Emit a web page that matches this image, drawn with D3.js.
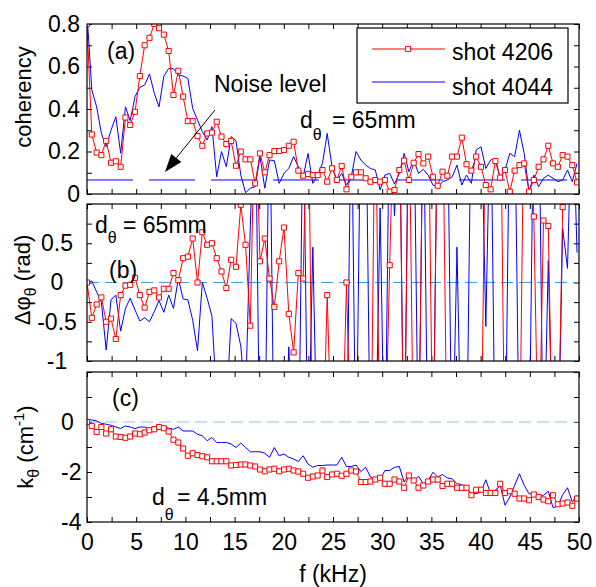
<!DOCTYPE html>
<html>
<head>
<meta charset="utf-8">
<script src="https://cdn.jsdelivr.net/npm/d3@7"></script>
<style>
  body { margin: 0; background: #fff; }
  svg { display: block; font-family: "Liberation Sans", Arial, sans-serif; }
</style>
</head>
<body>
<svg id="chart" width="596" height="587"></svg>
<script>
// frequency bins (kHz)
const freqKHz = [
  0, 0.49, 0.98, 1.46, 1.95, 2.44, 2.93, 3.42, 3.91, 4.39,
  4.88, 5.37, 5.86, 6.35, 6.84, 7.32, 7.81, 8.30, 8.79, 9.28,
  9.77, 10.25, 10.74, 11.23, 11.72, 12.21, 12.70, 13.18, 13.67, 14.16,
  14.65, 15.14, 15.63, 16.11, 16.60, 17.09, 17.58, 18.07, 18.55, 19.04,
  19.53, 20.02, 20.51, 21.00, 21.48, 21.97, 22.46, 22.95, 23.44, 23.93,
  24.41, 24.90, 25.39, 25.88, 26.37, 26.86, 27.34, 27.83, 28.32, 28.81,
  29.30, 29.79, 30.27, 30.76, 31.25, 31.74, 32.23, 32.71, 33.20, 33.69,
  34.18, 34.67, 35.16, 35.64, 36.13, 36.62, 37.11, 37.60, 38.09, 38.57,
  39.06, 39.55, 40.04, 40.53, 41.02, 41.50, 41.99, 42.48, 42.97, 43.46,
  43.95, 44.43, 44.92, 45.41, 45.90, 46.39, 46.88, 47.36, 47.85, 48.34,
  48.83, 49.32, 49.80
];

// (a) coherency
const cohShot4206 = [
  0.80, 0.28, 0.195, 0.183, 0.25, 0.147, 0.154, 0.128, 0.36, 0.325,
  0.387, 0.555, 0.70, 0.735, 0.80, 0.78, 0.75, 0.673, 0.466, 0.58,
  0.458, 0.343, 0.343, 0.273, 0.227, 0.285, 0.289, 0.34, 0.27, 0.235,
  0.25, 0.133, 0.2, 0.163, 0.163, 0.05, 0.191, 0.102, 0.183, 0.202,
  0.202, 0.207, 0.227, 0.246, 0.11, 0.086, 0.094, 0.089, 0.089, 0.113,
  0.058, 0.121, 0.066, 0.132, 0.022, 0.081, 0.102, 0.102, 0.074, 0.058,
  0.066, 0.058, 0.066, 0.011, 0.019, 0.113, 0.157, 0.066, 0.147, 0.188,
  0.144, 0.176, 0.081, 0.039, 0.105, 0.086, 0.176, 0.176, 0.265, 0.14,
  0.11, 0.176, 0.128, 0.042, 0.022, 0.155, 0.077, 0.113, 0.011, 0.11,
  0.136, 0.144, 0.011, 0.066, 0.128, 0.163, 0.227, 0.144, 0.128, 0.183,
  0.176, 0.136, 0.055
];
const cohShot4044 = [
  0.85, 0.49, 0.41, 0.286, 0.223, 0.30, 0.364, 0.192, 0.41, 0.345,
  0.458, 0.502, 0.513, 0.565, 0.474, 0.41, 0.555, 0.59, 0.59, 0.56,
  0.555, 0.544, 0.403, 0.348, 0.293, 0.254, 0.317, 0.081, 0.2, 0.128,
  0.27, 0.25, 0.089, 0.006, 0.027, 0.034, 0.176, 0.027, 0.16, 0.157,
  0.05, 0.097, 0.12, 0.176, 0.128, 0.081, 0.191, 0.05, 0.089, 0.144,
  0.285, 0.128, 0.066, 0.097, 0.042, 0.081, 0.2, 0.16, 0.136, 0.12,
  0.113, 0.019, 0.089, 0.097, 0.047, 0.097, 0.191, 0.105, 0.16, 0.097,
  0.116, 0.089, 0.042, 0.034, 0.058, 0.066, 0.081, 0.136, 0.042, 0.089,
  0.05, 0.207, 0.222, 0.12, 0.16, 0.168, 0.074, 0.113, 0.191, 0.176,
  0.30, 0.191, 0.011, 0.089, 0.034, 0.074, 0.089, 0.074, 0.058, 0.066,
  0.113, 0.058, 0.144
];
const noiseLevel = 0.066;

// (b) cross phase (rad), values beyond +-1 run off the axes
const phaseShot4206 = [
  0, -0.45, -0.28, -0.19, -0.5, -0.46, -0.72, -0.16, -0.04, -0.03,
  0.06, -0.16, -0.32, -0.12, -0.1, -0.19, -0.08, -0.08, 0.12, 0.03,
  0.31, 0.33, 0.56, 0.0, 0.64, 0.48, 0.5, 0.31, 0.14, -0.07,
  0.29, 0.2, 0.99, 0.48, -0.55, 2.6, 0.27, 0.56, 0.05, -0.31,
  0.27, 0.70, -0.4, -0.89, 0.12, 0.05, 2.8, -2.6, -2.2, -2.4,
  -0.16, -2.3, -2.7, -2.5, 0.0, -2.4, -2.8, -2.6, -2.3, -2.9,
  2.7, -2.8, -2.4, 0.22, 2.6, 2.4, -2.7, 2.6, -2.5, -2.6,
  2.7, 2.6, -2.5, 2.4, 2.5, -2.6, -2.4, -2.5, -2.7, -2.3,
  -2.6, -2.4, -2.5, 2.5, 2.6, 2.4, 2.7, -2.5, -2.4, -2.6,
  -2.5, 2.6, 2.4, 0.84, -2.5, 0.79, 0.72, -2.6, -2.4, 0.96,
  2.5, 2.5, 2.6
];
const phaseShot4044 = [
  0, 0.02, -0.12, -0.25, -0.86, -0.22, -0.16, -0.62, -0.33, -0.2,
  -0.35, -0.49, -0.45, -0.5, -0.37, -0.23, -0.38, -0.16, -0.33, 0.05,
  -0.21, -0.22, -0.48, -0.87, 0, -0.2, -0.43, -1.5, -1.3, -1.6,
  -0.46, -0.52, -0.81, -1.5, 0.73, 2.6, -2.5, -2.3, 2.6, -2.6,
  -2.2, -2.5, -0.82, -2.4, -2.6, 2.4, -2.4, 0.45, -2.5, -2.4,
  -2.7, -2.5, -2.3, -2.6, -2.5, 2.5, -2.5, 2.4, 2.6, -2.5,
  -2.4, 0.95, -2.6, 2.5, 0.85, 2.4, -2.5, 2.6, 2.5, -2.4,
  2.5, -2.6, -2.4, 2.5, 2.6, 2.4, -2.5, 0.45, -2.6, -2.4,
  2.5, 2.6, 2.4, -0.56, 2.5, -2.5, -2.4, -2.6, 2.5, 2.4,
  -2.5, -2.6, -2.4, 2.5, 2.6, -2.5, 0.28, -2.4, -2.5, 0.69,
  0.18, 2.5, 0.38
];

// (c) poloidal wavenumber (cm^-1)
const kShot4206 = [
  0, -0.16, -0.4, -0.2, -0.46, -0.29, -0.58, -0.6, -0.63, -0.58,
  -0.46, -0.49, -0.42, -0.33, -0.29, -0.2, -0.25, -0.38, -0.71, -0.82,
  -1.06, -1.35, -1.25, -1.32, -1.37, -1.41, -1.57, -1.57, -1.57, -1.57,
  -1.74, -1.72, -1.7, -1.7, -1.74, -1.78, -1.9, -1.97, -1.9, -1.87,
  -1.97, -1.9, -1.87, -1.94, -1.98, -2.07, -2.23, -2.18, -2.14, -1.94,
  -2.2, -2.1, -2.07, -2.15, -2.07, -1.94, -1.98, -2.4, -2.4, -2.38,
  -2.3, -2.23, -2.47, -2.47, -2.3, -2.38, -2.63, -2.14, -2.34, -2.63,
  -2.54, -2.38, -2.3, -2.3, -2.56, -2.47, -2.47, -2.63, -2.63, -2.63,
  -2.93, -2.71, -2.71, -2.84, -2.84, -2.84, -2.47, -2.84, -2.77, -2.87,
  -3.06, -3.06, -3.13, -2.9, -3.0, -3.1, -3.17, -2.93, -3.29, -3.26,
  -3.22, -3.35, -3.06
];
const kShot4044 = [
  0.11, 0.08, 0.04, -0.05, -0.09, -0.13, -0.2, -0.26, -0.16, -0.2,
  -0.26, -0.2, -0.2, -0.29, -0.2, -0.29, -0.2, -0.25, -0.29, -0.2,
  -0.36, -0.36, -0.36, -0.49, -0.55, -0.75, -0.62, -0.82, -0.82, -0.82,
  -0.88, -1.02, -0.84, -1.02, -1.19, -1.19, -1.19, -1.25, -1.41, -1.02,
  -1.35, -1.28, -1.41, -1.48, -1.58, -1.35, -1.68, -1.81, -1.74, -1.74,
  -1.72, -1.72, -1.72, -1.41, -1.78, -1.78, -1.72, -1.98, -1.81, -2.2,
  -2.27, -2.31, -1.94, -1.94, -1.81, -1.78, -2.4, -2.11, -2.36, -2.17,
  -2.47, -2.34, -2.01, -2.2, -2.1, -2.24, -2.27, -2.47, -2.5, -2.67,
  -2.84, -2.87, -2.8, -2.31, -2.87, -2.73, -2.53, -3.33, -3.0, -2.53,
  -2.07, -2.53, -2.87, -2.87, -3.0, -2.93, -2.77, -3.42, -3.37, -2.9,
  -2.63, -3.2, -2.93
];

// ticks
const xMinorTicks = [0, 2.5, 5, 7.5, 10, 12.5, 15, 17.5, 20, 22.5, 25, 27.5, 30, 32.5, 35, 37.5, 40, 42.5, 45, 47.5, 50];
const xTickLabels = [0, 5, 10, 15, 20, 25, 30, 35, 40, 45, 50];
const cohTicks = [0, 0.1, 0.2, 0.3, 0.4, 0.5, 0.6, 0.7, 0.8];
const cohTickLabels = [0, 0.2, 0.4, 0.6, 0.8];
const phaseTicks = [-1, -0.75, -0.5, -0.25, 0, 0.25, 0.5, 0.75, 1];
const phaseTickLabels = [-1, -0.5, 0, 0.5];
const kTicks = [-4, -3, -2, -1, 0, 1, 2];
const kTickLabels = [-4, -2, 0];

const RED = "#ff0000", BLUE = "#0000ff";
const FONT = 23;

var svg = d3.select("#chart");
svg.append("rect").attr("width", 596).attr("height", 587).attr("fill", "#fff");

var left = 87, right = 579;
var x = d3.scaleLinear().domain([0, 50]).range([left, right]);

var panels = [
  {id: "a", top: 24, bottom: 194, domain: [0, 0.8], ticks: cohTicks, labels: cohTickLabels,
   red: cohShot4206, blue: cohShot4044, labelAnchor: "end", labelX: 80},
  {id: "b", top: 204, bottom: 361, domain: [-1, 1], ticks: phaseTicks, labels: phaseTickLabels,
   red: phaseShot4206, blue: phaseShot4044, labelAnchor: "middle", labelX: 57},
  {id: "c", top: 372, bottom: 522, domain: [-4, 2], ticks: kTicks, labels: kTickLabels,
   red: kShot4206, blue: kShot4044, labelAnchor: "start", labelX: 61}
];

var square = d3.symbol().type(d3.symbolSquare).size(26);

panels.forEach(function (p) {
  var y = d3.scaleLinear().domain(p.domain).range([p.bottom, p.top]);
  p.y = y;

  svg.append("clipPath").attr("id", "clip-" + p.id)
    .append("rect")
    .attr("x", left).attr("y", p.top)
    .attr("width", right - left).attr("height", p.bottom - p.top);

  // inward ticks on all four sides
  var tickG = svg.append("g").attr("stroke-width", 1);
  tickG.append("g").attr("transform", "translate(0," + p.bottom + ")")
    .call(d3.axisBottom(x).tickValues(xMinorTicks).tickSize(-5).tickFormat(""));
  tickG.append("g").attr("transform", "translate(0," + p.top + ")")
    .call(d3.axisTop(x).tickValues(xMinorTicks).tickSize(-5).tickFormat(""));
  tickG.append("g").attr("transform", "translate(" + left + ",0)")
    .call(d3.axisLeft(y).tickValues(p.ticks).tickSize(-5).tickFormat(""));
  tickG.append("g").attr("transform", "translate(" + right + ",0)")
    .call(d3.axisRight(y).tickValues(p.ticks).tickSize(-5).tickFormat(""));
  tickG.selectAll(".domain").remove();

  // y tick labels
  var lab = svg.append("g").attr("transform", "translate(" + left + ",0)")
    .call(d3.axisLeft(y).tickValues(p.labels).tickSize(0).tickFormat(function (d) { return String(d); }));
  lab.select(".domain").remove();
  lab.selectAll("text")
    .attr("font-size", FONT)
    .attr("font-family", "Liberation Sans, Arial, sans-serif")
    .attr("fill", "#000")
    .attr("text-anchor", p.labelAnchor)
    .attr("x", p.labelX - left);

  var plot = svg.append("g").attr("clip-path", "url(#clip-" + p.id + ")");

  // reference lines
  if (p.id == "a") {
    plot.append("line")
      .attr("x1", left).attr("x2", right)
      .attr("y1", y(noiseLevel)).attr("y2", y(noiseLevel))
      .attr("stroke", BLUE).attr("stroke-width", 1)
      .attr("stroke-dasharray", "46,16");
  } else {
    plot.append("line")
      .attr("x1", left).attr("x2", right)
      .attr("y1", y(0)).attr("y2", y(0))
      .attr("stroke", p.id == "b" ? "#3f9cd6" : "#8fc2e4")
      .attr("stroke-width", 1)
      .attr("stroke-dasharray", "12,6");
  }

  var line = d3.line()
    .x(function (d, i) { return x(freqKHz[i]); })
    .y(function (d) { return y(d); });

  plot.append("path").datum(p.blue)
    .attr("d", line).attr("fill", "none")
    .attr("stroke", BLUE).attr("stroke-width", 1);

  plot.append("path").datum(p.red)
    .attr("d", line).attr("fill", "none")
    .attr("stroke", RED).attr("stroke-width", 1);

  plot.selectAll("path.mk").data(p.red).enter()
    .append("path").attr("class", "mk")
    .attr("d", square)
    .attr("transform", function (d, i) { return "translate(" + x(freqKHz[i]) + "," + y(d) + ")"; })
    .attr("fill", "#fff").attr("stroke", RED).attr("stroke-width", 1);

  // frame
  svg.append("rect")
    .attr("x", left).attr("y", p.top)
    .attr("width", right - left).attr("height", p.bottom - p.top)
    .attr("fill", "none").attr("stroke", "#000").attr("stroke-width", 1.2);
});

// x tick labels under the last panel
var xl = svg.append("g").attr("transform", "translate(0," + panels[2].bottom + ")")
  .call(d3.axisBottom(x).tickValues(xTickLabels).tickSize(0).tickPadding(12));
xl.select(".domain").remove();
xl.selectAll("text")
  .attr("font-size", FONT)
  .attr("font-family", "Liberation Sans, Arial, sans-serif")
  .attr("fill", "#000");

svg.append("text")
  .attr("x", (left + right) / 2).attr("y", 582)
  .attr("text-anchor", "middle").attr("font-size", FONT)
  .text("f (kHz)");

// y axis titles
var t1 = svg.append("text")
  .attr("transform", "translate(31,97) rotate(-90)")
  .attr("text-anchor", "middle").attr("font-size", 22)
  .text("coherency");

var t2 = svg.append("text")
  .attr("transform", "translate(30,280) rotate(-90)")
  .attr("text-anchor", "middle").attr("font-size", 22);
t2.append("tspan").text("\u0394\u03c6");
t2.append("tspan").attr("font-size", 16).attr("dy", 6).text("\u03b8");
t2.append("tspan").attr("dy", -6).text(" (rad)");

var t3 = svg.append("text")
  .attr("transform", "translate(33,447) rotate(-90)")
  .attr("text-anchor", "middle").attr("font-size", 22);
t3.append("tspan").text("k");
t3.append("tspan").attr("font-size", 16).attr("dy", 6).text("\u03b8");
t3.append("tspan").attr("dy", -6).text(" (cm");
t3.append("tspan").attr("font-size", 15).attr("dy", -9).text("-1");
t3.append("tspan").attr("dy", 9).text(")");

// panel tags
function tag(txt, px, py) {
  svg.append("text").attr("x", px).attr("y", py).attr("font-size", FONT).text(txt);
}
tag("(a)", 107, 59);
tag("(b)", 109, 278);
tag("(c)", 112, 406);
tag("Noise level", 214, 92);

function dTheta(px, py, eqX, subDy, rest) {
  var t = svg.append("text").attr("x", px).attr("y", py).attr("font-size", FONT);
  t.append("tspan").text("d");
  t.append("tspan").attr("font-size", 16).attr("dy", subDy).text("\u03b8");
  t.append("tspan").attr("x", eqX).attr("dy", -subDy).text(rest);
}
dTheta(300, 128, 332, 12, "= 65mm");
dTheta(95, 233, 123, 10, "= 65mm");
dTheta(152, 505, 177, 15, "= 4.5mm");

// arrow toward noise line
var ax0 = 215, ay0 = 110, ax1 = 165, ay1 = 172;
var ang = Math.atan2(ay1 - ay0, ax1 - ax0);
var hl = 18, hw = 6.5;
var bx = ax1 - hl * Math.cos(ang), by = ay1 - hl * Math.sin(ang);
svg.append("line")
  .attr("x1", ax0).attr("y1", ay0).attr("x2", bx).attr("y2", by)
  .attr("stroke", "#000").attr("stroke-width", 1);
svg.append("path")
  .attr("d", "M" + ax1 + "," + ay1 +
    "L" + (bx + hw * Math.sin(ang)) + "," + (by - hw * Math.cos(ang)) +
    "L" + (bx - hw * Math.sin(ang)) + "," + (by + hw * Math.cos(ang)) + "Z")
  .attr("fill", "#000");

// legend
var lg = svg.append("g");
lg.append("rect").attr("x", 357).attr("y", 28).attr("width", 211).attr("height", 75)
  .attr("fill", "#fff").attr("stroke", "#000").attr("stroke-width", 1.2);
lg.append("line").attr("x1", 372).attr("x2", 445).attr("y1", 49).attr("y2", 49)
  .attr("stroke", RED).attr("stroke-width", 1);
lg.append("path").attr("d", square).attr("transform", "translate(408,49)")
  .attr("fill", "#fff").attr("stroke", RED);
lg.append("line").attr("x1", 372).attr("x2", 445).attr("y1", 82).attr("y2", 82)
  .attr("stroke", BLUE).attr("stroke-width", 1);
lg.append("text").attr("x", 452).attr("y", 60).attr("font-size", FONT).text("shot 4206");
lg.append("text").attr("x", 452).attr("y", 95).attr("font-size", FONT).text("shot 4044");
</script>
</body>
</html>
